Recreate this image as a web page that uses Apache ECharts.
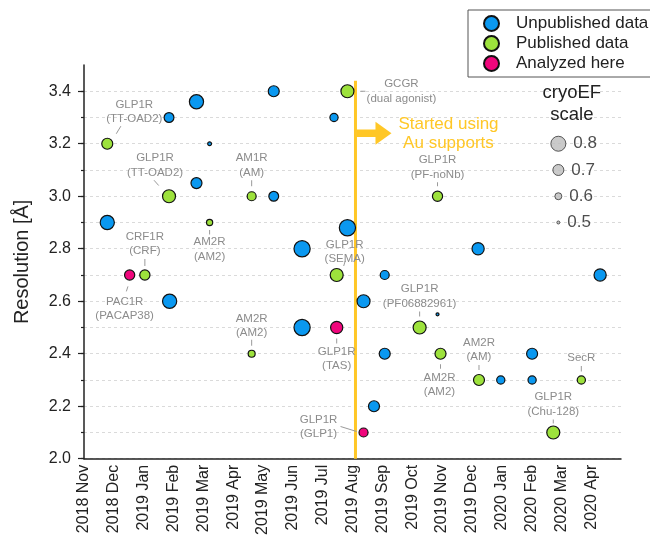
<!DOCTYPE html>
<html>
<head>
<meta charset="utf-8">
<script src="https://cdn.jsdelivr.net/npm/echarts@6/dist/echarts.min.js"></script>
<style>
  html, body { margin: 0; padding: 0; background: #fff; }
  #chart { width: 650px; height: 538px; }
</style>
</head>
<body>
<div id="chart"></div>
<script>
// ---------- DATA ----------
const months = ['2018 Nov','2018 Dec','2019 Jan','2019 Feb','2019 Mar','2019 Apr','2019 May','2019 Jun','2019 Jul','2019 Aug','2019 Sep','2019 Oct','2019 Nov','2019 Dec','2020 Jan','2020 Feb','2020 Mar','2020 Apr'];

// [month index since 2018 Nov, resolution (Å), cryoEF]
const unpublished = [
  [0.78, 2.90, 0.78], [2.85, 3.30, 0.67], [3.77, 3.36, 0.78], [4.21, 3.20, 0.52],
  [3.77, 3.05, 0.70], [6.36, 3.40, 0.70], [8.38, 3.30, 0.63], [6.36, 3.00, 0.67],
  [8.83, 2.88, 0.83], [7.31, 2.80, 0.83], [13.21, 2.80, 0.73], [2.87, 2.60, 0.78],
  [10.08, 2.70, 0.65], [9.37, 2.60, 0.75], [11.85, 2.55, 0.50], [7.31, 2.50, 0.83],
  [10.08, 2.40, 0.70], [9.72, 2.20, 0.70], [17.30, 2.70, 0.73], [15.02, 2.40, 0.70],
  [13.97, 2.30, 0.63], [15.02, 2.30, 0.63]
];
const published = [
  [0.78, 3.20, 0.70], [2.85, 3.00, 0.75], [4.21, 2.90, 0.58], [5.62, 3.00, 0.65],
  [8.83, 3.40, 0.75], [11.85, 3.00, 0.68], [2.04, 2.70, 0.68], [5.62, 2.40, 0.60],
  [8.47, 2.70, 0.75], [11.25, 2.50, 0.75], [11.95, 2.40, 0.70], [13.24, 2.30, 0.70],
  [16.67, 2.30, 0.63], [15.73, 2.10, 0.75]
];
const analyzed = [
  [1.53, 2.70, 0.68], [8.47, 2.50, 0.73], [9.37, 2.10, 0.65]
];

const annotationText = [
  'GLP1R\n(TT-OAD2)', 'GLP1R\n(TT-OAD2)', 'AM1R\n(AM)', 'AM2R\n(AM2)', 'CRF1R\n(CRF)',
  'PAC1R\n(PACAP38)', 'AM2R\n(AM2)', 'GCGR\n(dual agonist)', 'GLP1R\n(PF-noNb)', 'GLP1R\n(SEMA)',
  'GLP1R\n(TAS)', 'GLP1R\n(PF06882961)', 'GLP1R\n(GLP1)', 'AM2R\n(AM2)', 'AM2R\n(AM)',
  'SecR', 'GLP1R\n(Chu-128)'
];
const annotationAt = [
  [0.78, 3.20], [2.85, 3.00], [5.62, 3.00], [4.21, 2.90], [2.04, 2.70],
  [1.53, 2.70], [5.62, 2.40], [8.83, 3.40], [11.85, 3.00], [8.47, 2.70],
  [8.47, 2.50], [11.25, 2.50], [9.37, 2.10], [11.95, 2.40], [13.24, 2.30],
  [16.67, 2.30], [15.73, 2.10]
];

const sizeScale = [[15.9, 3.2, 0.8], [15.9, 3.1, 0.7], [15.9, 3.0, 0.6], [15.9, 2.9, 0.5]];
const auStart = 9.1;          // month index where Au supports started
const auLineTop = 3.44;
const auArrowAt = 3.24;

const yTicksMajor = [2.0, 2.2, 2.4, 2.6, 2.8, 3.0, 3.2, 3.4];
const yTicksMinor = [2.0, 2.1, 2.2, 2.3, 2.4, 2.5, 2.6, 2.7, 2.8, 2.9, 3.0, 3.1, 3.2, 3.3, 3.4];

// ---------- LAYOUT (pixel offsets of annotation text & leader line from the point) ----------
// [textDx, textDy, x1, y1, x2, y2]
const annotLayout = [
  [27, -32, 9, -10, 13.6, -17.6],
  [-14, -31, -15, -16, -10.3, -10.7],
  [0, -31, 0, -16, 0, -10],
  [0, 27, 0, 7.5, 0, 12],
  [0, -31, 0, -16, 0, -9],
  [-5, 34, -1.7, 11.4, -3.3, 16.4],
  [0, -28, 0, -14, 0, -8],
  [54, 0, 13, 0, 18, 0],
  [0, -29, 0, -14, 0, -10],
  [8, -23, 7, -9, 8.5, -14],
  [0, 31.5, 0, 11, 0, 16],
  [0, -31, 0, -16, 0, -11],
  [-45, -5.5, -23, -6, -7, -1],
  [-1, 31, 0, 10.5, 0, 15],
  [0, -30, 0, -15, 0, -10],
  [0, -22, 0, -14, 0, -8.5],
  [0, -28, 0, -13, 0, -9]
];

const FONT = "'Liberation Sans', Arial, sans-serif";
const YELLOW = '#ffc727';
const sizeOf = v => 3 + 40 * (v[2] - 0.5);

const chart = echarts.init(document.getElementById('chart'));

const pointSeries = (name, data, color) => ({
  name, type: 'scatter', data,
  symbol: 'circle',
  symbolSize: sizeOf,
  itemStyle: { color, borderColor: '#111', borderWidth: 1.2, opacity: 1 },
  emphasis: { disabled: true },
  z: 5
});

const option = {
  animation: false,
  backgroundColor: '#fff',
  textStyle: { fontFamily: FONT },
  grid: { left: 84, right: 29, top: 65, bottom: 79 },
  legend: {
    data: ['Unpublished data', 'Published data', 'Analyzed here'],
    orient: 'vertical',
    left: 468, top: 10,
    icon: 'circle',
    itemWidth: 15, itemHeight: 15, itemGap: 3,
    padding: [5, 6, 5, 15],
    borderColor: '#555', borderWidth: 1,
    backgroundColor: '#fff',
    textStyle: { fontSize: 17, color: '#222', fontFamily: FONT, padding: [0, 0, 0, 12] },
    selectedMode: false
  },
  xAxis: {
    type: 'value', min: 0, max: 18, interval: 1,
    axisLine: { show: true, onZero: false, lineStyle: { color: '#222', width: 1.5 } },
    axisTick: { show: false },
    splitLine: { show: false },
    axisLabel: {
      rotate: 90, margin: 6, fontSize: 16, color: '#222', fontFamily: FONT,
      formatter: v => months[v] || ''
    }
  },
  yAxis: [
    {
      type: 'value', min: 2.0, max: 3.5, position: 'left',
      axisLine: { show: true, onZero: false, lineStyle: { color: '#222', width: 1.5 } },
      axisTick: { show: true, length: 3, customValues: yTicksMinor, lineStyle: { color: '#222', width: 1.2 } },
      axisLabel: { show: false },
      splitLine: { show: true, lineStyle: { type: [3, 3], color: '#dadada', width: 1 } }
    },
    {
      type: 'value', min: 2.0, max: 3.5, position: 'left',
      name: 'Resolution [Å]', nameLocation: 'middle', nameGap: 52,
      nameTextStyle: { fontSize: 20, color: '#222', fontFamily: FONT },
      axisLine: { show: false },
      axisTick: { show: true, length: 6, customValues: yTicksMajor, lineStyle: { color: '#222', width: 1.2 } },
      axisLabel: { customValues: yTicksMajor, margin: 13, fontSize: 16, color: '#222', fontFamily: FONT,
                   formatter: v => v.toFixed(1) },
      splitLine: { show: false }
    }
  ],
  series: [
    {
      name: 'Au line', type: 'line', data: [[auStart, 2.0], [auStart, auLineTop]],
      symbol: 'none', lineStyle: { color: YELLOW, width: 3 }, z: 1, silent: true
    },
    {
      name: 'Au arrow', type: 'custom', data: [[auStart, auArrowAt]], z: 1, silent: true,
      encode: { x: 0, y: 1 },
      renderItem: (params, api) => {
        const p = api.coord([api.value(0), api.value(1)]);
        const x = p[0], y = p[1];
        return {
          type: 'group',
          children: [
            { type: 'polygon', shape: { points: [
                [x + 1, y - 3.7], [x + 20, y - 3.7], [x + 20, y - 11.5], [x + 36, y],
                [x + 20, y + 11.5], [x + 20, y + 3.7], [x + 1, y + 3.7] ] },
              style: { fill: YELLOW } },
            { type: 'text', style: { text: 'Started using\nAu supports', x: x + 93, y: y + 1,
                align: 'center', verticalAlign: 'middle', fill: YELLOW,
                fontSize: 17, fontFamily: FONT, lineHeight: 19 } }
          ]
        };
      }
    },
    {
      name: 'annotations', type: 'custom', z: 3, silent: true,
      data: annotationAt.map((p, i) => [p[0], p[1], i]),
      encode: { x: 0, y: 1 },
      renderItem: (params, api) => {
        const i = api.value(2);
        const p = api.coord([api.value(0), api.value(1)]);
        const o = annotLayout[i];
        return {
          type: 'group',
          children: [
            { type: 'line', shape: { x1: p[0] + o[2], y1: p[1] + o[3], x2: p[0] + o[4], y2: p[1] + o[5] },
              style: { stroke: '#9a9a9a', lineWidth: 1 } },
            { type: 'text', style: { text: annotationText[i], x: p[0] + o[0], y: p[1] + o[1],
                align: 'center', verticalAlign: 'middle', fill: '#8c8c8c',
                fontSize: 11.5, fontFamily: FONT, lineHeight: 14.5 } }
          ]
        };
      }
    },
    pointSeries('Unpublished data', unpublished, '#0a98f0'),
    pointSeries('Published data', published, '#9de23c'),
    pointSeries('Analyzed here', analyzed, '#f0067c'),
    {
      name: 'cryoEF scale', type: 'scatter', data: sizeScale, symbolSize: sizeOf,
      itemStyle: { color: '#bdbdbd', borderColor: '#333', borderWidth: 1 },
      label: { show: true, position: 'right', distance: 7, fontSize: 17, color: '#222', fontFamily: FONT,
               formatter: p => p.value[2].toFixed(1) },
      emphasis: { disabled: true }, silent: true, z: 5
    },
    {
      name: 'cryoEF title', type: 'custom', data: [sizeScale[0]], silent: true, z: 5,
      encode: { x: 0, y: 1 },
      renderItem: (params, api) => {
        const p = api.coord([api.value(0), api.value(1)]);
        return { type: 'text', style: { text: 'cryoEF\nscale', x: p[0] + 13.5, y: p[1] - 39.5,
          align: 'center', verticalAlign: 'middle', fill: '#222', fontSize: 18.5,
          fontFamily: FONT, lineHeight: 22 } };
      }
    }
  ]
};
chart.setOption(option);
</script>
</body>
</html>
